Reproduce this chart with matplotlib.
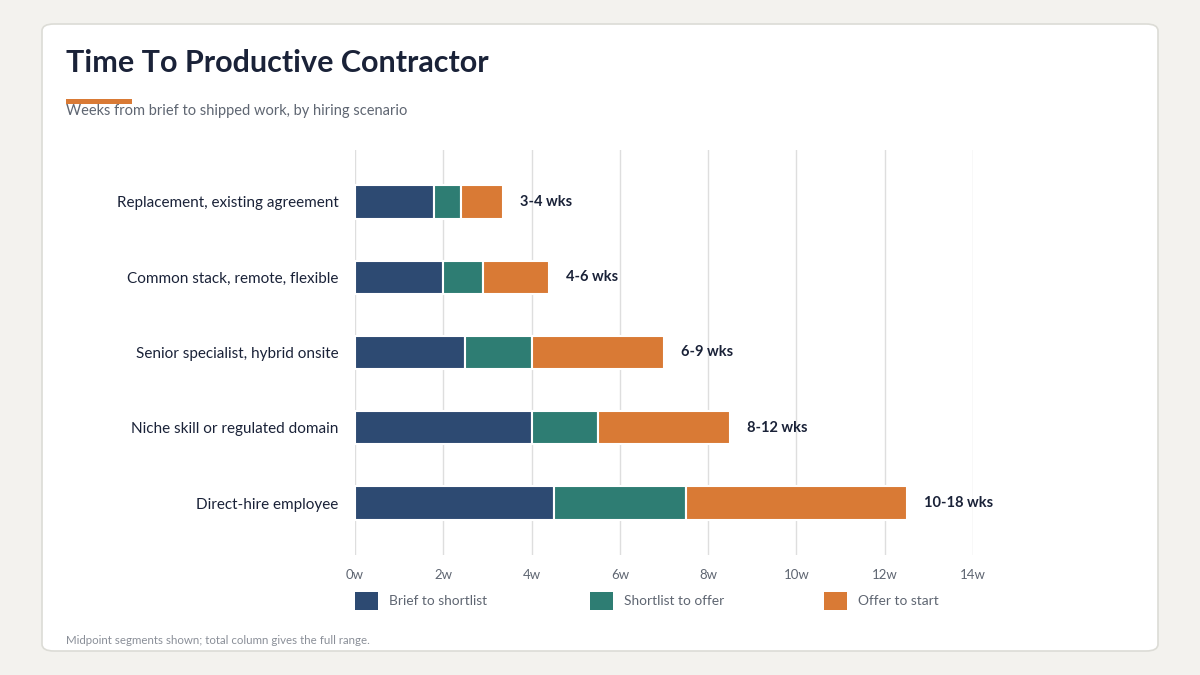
import matplotlib
matplotlib.use("Agg")
import matplotlib.pyplot as plt
from matplotlib.patches import FancyBboxPatch, Rectangle

categories = ["Replacement, existing agreement", "Common stack, remote, flexible",
              "Senior specialist, hybrid onsite", "Niche skill or regulated domain",
              "Direct-hire employee"]
brief = [1.8, 2.0, 2.5, 4.0, 4.5]
shortlist = [0.6, 0.9, 1.5, 1.5, 3.0]
offer = [0.95, 1.5, 3.0, 3.0, 5.0]
totals = ["3-4 wks", "4-6 wks", "6-9 wks", "8-12 wks", "10-18 wks"]
series_names = ["Brief to shortlist", "Shortlist to offer", "Offer to start"]
colors = ["#2d4a72", "#2e7d73", "#d97a35"]
xticks = list(range(0, 16, 2))

plt.rcParams['font.family'] = ['Lato', 'DejaVu Sans']
fig = plt.figure(figsize=(12, 6.75), dpi=100)
fig.patch.set_facecolor("#f3f2ee")
fig.patches.append(FancyBboxPatch((42/1200, 1-651/675), 1116/1200, 627/675,
    boxstyle="round,pad=0,rounding_size=0.01", transform=fig.transFigure,
    facecolor="white", edgecolor="#dcdcd6", linewidth=1.2, zorder=-5))
fig.patches.append(Rectangle((66/1200, 1-104/675), 66/1200, 5/675, transform=fig.transFigure,
    facecolor="#d97a35", edgecolor="none", zorder=-4))
fig.text(66/1200, 1-63/675, "Time To Productive Contractor", fontsize=22, fontweight="bold",
         color="#1a2238", va="center")
fig.text(66/1200, 1-111/675, "Weeks from brief to shipped work, by hiring scenario", fontsize=10.5,
         color="#5f6672", va="center")
fig.text(66/1200, 1-641/675, "Midpoint segments shown; total column gives the full range.",
         fontsize=8.3, color="#8a8f98", va="center")

ax = fig.add_axes([355/1200, 1-555/675, 618/1200, 405/675])
ax.set_facecolor("none")
y = list(range(len(categories)))
left = [0]*5
for vals, c in zip([brief, shortlist, offer], colors):
    ax.barh(y, vals, left=left, height=0.44, color=c, edgecolor="white", linewidth=1.5, zorder=3)
    left = [l+v for l, v in zip(left, vals)]
for yi, l, t in zip(y, left, totals):
    ax.text(l+0.38, yi, t, va="center", ha="left", fontsize=10.5, fontweight="bold", color="#1a2238")
ax.set_xlim(0, 14)
ax.set_ylim(4.69, -0.69)
ax.set_xticks(xticks)
ax.set_xticklabels([f"{x}w" for x in xticks], fontsize=9.5, color="#5f6672")
ax.set_yticks(y)
ax.set_yticklabels(categories, fontsize=11, color="#1a2238")
ax.tick_params(length=0, pad=10)
ax.tick_params(axis="y", pad=12)
ax.grid(axis="x", color="#dedede", linewidth=1, zorder=0)
for s in ax.spines.values():
    s.set_visible(False)

for i, (name, c) in enumerate(zip(series_names, colors)):
    x0 = [355, 590, 824][i]
    fig.patches.append(Rectangle((x0/1200, 1-610/675), 23/1200, 18/675, transform=fig.transFigure,
        facecolor=c, edgecolor="none"))
    fig.text((x0+34)/1200, 1-601/675, name, fontsize=9.9, color="#5f6672", va="center")

fig.savefig("out.png", dpi=100, facecolor=fig.get_facecolor())
